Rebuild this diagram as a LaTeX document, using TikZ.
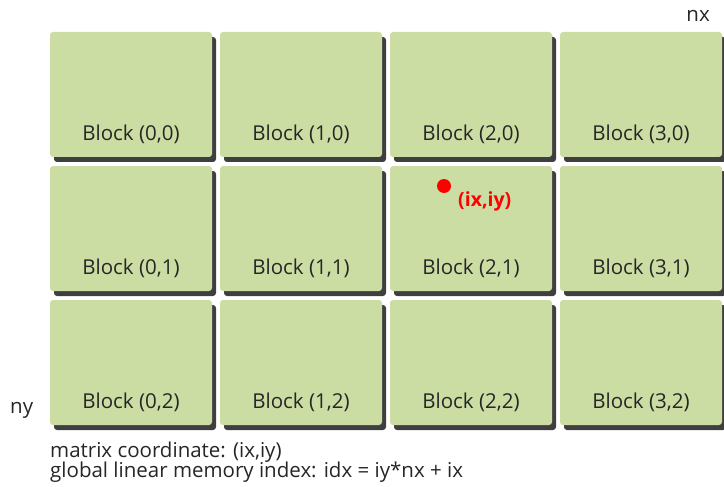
\documentclass[tikz,border=0pt]{standalone}
\usepackage{fontspec}
\setmainfont{Open Sans}
\usetikzlibrary{shadows}

\definecolor{blockgreen}{HTML}{CCDDA3}
\definecolor{shadowgray}{HTML}{3F3F3F}
\definecolor{textgray}{HTML}{262626}

\tikzset{
  block/.style={rectangle, rounded corners=3pt, fill=blockgreen,
    minimum width=162pt, inner xsep=0pt, inner ysep=0pt,
    text height=108pt, text depth=17pt, text=textgray,
    font=\fontsize{20.5}{23}\selectfont,
    drop shadow={shadow xshift=4pt, shadow yshift=-5pt, fill=shadowgray, opacity=1}},
  plain/.style={text=textgray, font=\fontsize{20.5}{23}\selectfont, inner sep=0pt}
}

\begin{document}
\begin{tikzpicture}[x=1pt, y=-1pt]
            \useasboundingbox (0,0) rectangle (724,487);

            % grid of thread blocks
            \node[block] (b00) at (131, 94.5) {Block (0,0)};
            \node[block] (b10) at (301, 94.5) {Block (1,0)};
            \node[block] (b20) at (471, 94.5) {Block (2,0)};
            \node[block] (b30) at (641, 94.5) {Block (3,0)};

            \node[block] (b01) at (131, 228.5) {Block (0,1)};
            \node[block] (b11) at (301, 228.5) {Block (1,1)};
            \node[block] (b21) at (471, 228.5) {Block (2,1)};
            \node[block] (b31) at (641, 228.5) {Block (3,1)};

            \node[block] (b02) at (131, 362.5) {Block (0,2)};
            \node[block] (b12) at (301, 362.5) {Block (1,2)};
            \node[block] (b22) at (471, 362.5) {Block (2,2)};
            \node[block] (b32) at (641, 362.5) {Block (3,2)};

            % one thread inside block (2,1)
            \node[circle, fill=red, minimum size=14pt, inner sep=0pt] (dot) at (444, 186) {};
            \node[anchor=west, text=red, inner sep=0pt, font=\fontsize{19.5}{22}\selectfont\bfseries] (ixiy) at (458, 201) {(ix,iy)};

            % dimensions
            \node[plain, anchor=east] (nx) at (710, 16) {nx};
            \node[plain, anchor=west] (ny) at (10, 410) {ny};

            \node[plain, anchor=west] (coord) at (50, 452) {matrix coordinate: (ix,iy)};
            \node[plain, anchor=west] (index) at (50, 472) {global linear memory index: idx = iy*nx + ix};
        \end{tikzpicture}
\end{document}
